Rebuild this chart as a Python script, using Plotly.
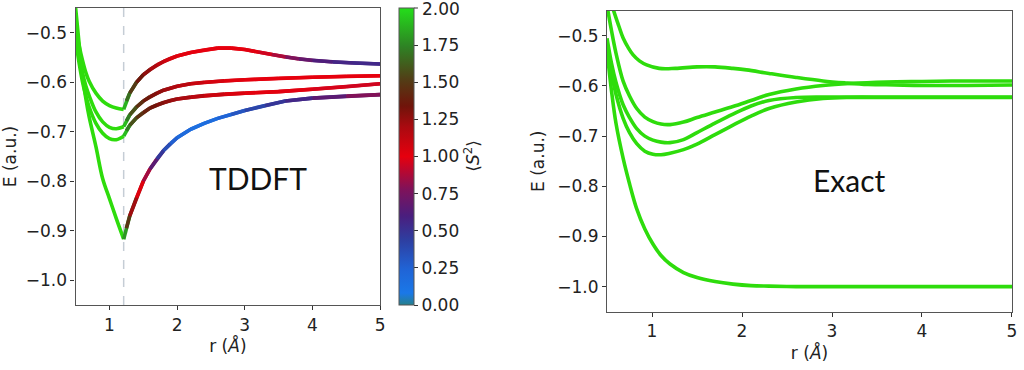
import plotly.graph_objects as go
from plotly.colors import sample_colorscale

# ---------------- data: TDDFT (left) ----------------
r_pre = [0.5, 0.55, 0.6, 0.65, 0.7, 0.8, 0.9, 1.0, 1.1, 1.21]
tddft_pre_1 = [-0.49, -0.525, -0.555, -0.58, -0.598, -0.622, -0.638, -0.647, -0.652, -0.655]
tddft_pre_2 = [-0.505, -0.545, -0.58, -0.607, -0.627, -0.66, -0.68, -0.691, -0.694, -0.690]
tddft_pre_3 = [-0.515, -0.56, -0.598, -0.627, -0.65, -0.683, -0.703, -0.714, -0.716, -0.709]
tddft_pre_4 = [-0.45, -0.52, -0.585, -0.632, -0.67, -0.73, -0.795, -0.835, -0.875, -0.917]

r_post_1 = [1.21, 1.25, 1.3, 1.4, 1.5, 1.6, 1.7, 1.8, 1.9, 2.0, 2.2, 2.4, 2.6, 2.8, 3.0, 3.2, 3.4, 3.6, 3.8, 4.0, 4.3, 4.6, 5.0]
tddft_post_1 = [-0.655, -0.638, -0.622, -0.600, -0.585, -0.574, -0.565, -0.558, -0.552, -0.547, -0.540, -0.535, -0.531,
                -0.531, -0.534, -0.539, -0.544, -0.549, -0.553, -0.556, -0.559, -0.561, -0.563]
s2_post_1 = [2.0, 1.75, 1.6, 1.4, 1.3, 1.22, 1.15, 1.1, 1.05, 1.02, 1.0, 1.0, 1.0,
             1.0, 1.0, 0.98, 0.92, 0.82, 0.72, 0.65, 0.58, 0.55, 0.55]

r_post_2 = [1.21, 1.25, 1.3, 1.4, 1.5, 1.6, 1.7, 1.8, 1.9, 2.0, 2.2, 2.4, 2.7, 3.0, 3.5, 4.0, 4.5, 5.0]
tddft_post_2 = [-0.690, -0.678, -0.666, -0.650, -0.638, -0.629, -0.622, -0.616, -0.612, -0.608, -0.603, -0.600,
                -0.597, -0.595, -0.592, -0.590, -0.588, -0.587]
s2_post_2 = [2.0, 1.8, 1.65, 1.5, 1.4, 1.32, 1.28, 1.24, 1.2, 1.17, 1.12, 1.08, 1.03, 1.0, 1.0, 1.0, 1.0, 1.0]

r_post_3 = [1.21, 1.25, 1.3, 1.4, 1.5, 1.6, 1.7, 1.8, 1.9, 2.0, 2.2, 2.4, 2.7, 3.0, 3.5, 4.0, 4.5, 5.0]
tddft_post_3 = [-0.709, -0.698, -0.687, -0.672, -0.661, -0.652, -0.646, -0.641, -0.637, -0.634, -0.630, -0.627,
                -0.624, -0.622, -0.619, -0.614, -0.609, -0.603]
s2_post_3 = [2.0, 1.8, 1.65, 1.5, 1.42, 1.36, 1.32, 1.28, 1.25, 1.22, 1.18, 1.12, 1.06, 1.02, 1.0, 0.98, 0.95, 0.95]

r_post_4 = [1.21, 1.25, 1.3, 1.4, 1.5, 1.6, 1.7, 1.8, 1.9, 2.0, 2.2, 2.4, 2.6, 2.8, 3.0, 3.3, 3.6, 4.0, 4.5, 5.0]
tddft_post_4 = [-0.917, -0.895, -0.870, -0.833, -0.800, -0.775, -0.755, -0.738, -0.724, -0.712, -0.695, -0.683,
                -0.673, -0.665, -0.657, -0.647, -0.638, -0.632, -0.628, -0.625]
s2_post_4 = [2.0, 1.6, 1.35, 1.1, 0.95, 0.75, 0.55, 0.4, 0.3, 0.22, 0.15, 0.15, 0.2, 0.28, 0.36, 0.45, 0.52,
             0.6, 0.72, 0.85]

r_kink = 1.21

# colorbar ticks
cbar_vals = [0, 0.25, 0.5, 0.75, 1.0, 1.25, 1.5, 1.75, 2.0]
cbar_text = ["0.00", "0.25", "0.50", "0.75", "1.00", "1.25", "1.50", "1.75", "2.00"]

# ---------------- data: Exact (right) ----------------
r_ex_top = [0.5, 0.57, 0.63, 0.68, 0.74, 0.79, 0.86, 0.94, 1.08, 1.26, 1.5, 1.7, 1.9, 2.05, 2.3, 2.6, 2.9, 3.15, 3.4, 3.7, 4.0, 4.5, 5.0]
ex_top = [-0.405, -0.448, -0.48, -0.505, -0.525, -0.538, -0.55, -0.558, -0.565, -0.565, -0.562, -0.562, -0.565,
          -0.568, -0.575, -0.583, -0.590, -0.594, -0.597, -0.598, -0.599, -0.599, -0.598]

r_ex = [0.5, 0.55, 0.6, 0.68, 0.75, 0.83, 0.92, 1.01, 1.1, 1.2, 1.35, 1.5, 1.7, 1.9, 2.1, 2.3, 2.6, 2.9, 3.2, 3.6, 4.0, 4.5, 5.0]
ex_b = [-0.44, -0.49, -0.535, -0.591, -0.62, -0.645, -0.662, -0.671, -0.676, -0.677, -0.672, -0.663, -0.652,
        -0.641, -0.629, -0.617, -0.606, -0.599, -0.595, -0.592, -0.591, -0.590, -0.590]
ex_c = [-0.505, -0.555, -0.593, -0.638, -0.663, -0.685, -0.700, -0.708, -0.712, -0.713, -0.707, -0.693, -0.674,
        -0.656, -0.640, -0.629, -0.623, -0.622, -0.622, -0.622, -0.622, -0.622, -0.622]
ex_d = [-0.515, -0.575, -0.617, -0.665, -0.693, -0.715, -0.730, -0.736, -0.737, -0.734, -0.727, -0.716, -0.697,
        -0.678, -0.660, -0.645, -0.632, -0.625, -0.623, -0.623, -0.623, -0.623, -0.623]
ex_g = [-0.53, -0.61, -0.675, -0.745, -0.795, -0.845, -0.885, -0.915, -0.938, -0.955, -0.972, -0.982, -0.990,
        -0.995, -0.998, -0.999, -1.0, -1.0, -1.0, -1.0, -1.0, -1.0, -1.0]

# ---------------- styling ----------------
colorscale = [
    [0.0, "rgb(38,128,140)"],
    [0.04, "rgb(26,120,232)"],
    [0.12, "rgb(32,100,214)"],
    [0.22, "rgb(46,62,160)"],
    [0.30, "rgb(74,30,126)"],
    [0.39, "rgb(128,18,90)"],
    [0.50, "rgb(230,0,14)"],
    [0.60, "rgb(170,10,16)"],
    [0.67, "rgb(112,20,10)"],
    [0.76, "rgb(82,62,22)"],
    [0.87, "rgb(46,130,36)"],
    [1.0, "rgb(36,222,26)"],
]
GREEN = "rgb(46,220,12)"
LW = 3.6
FONT = "DejaVu Sans"
TICKSIZE = 17
TITLESIZE = 17

W, H = 1024, 370
CB_LEFT, CB_W, CB_TOP, CB_BOT = 401, 15, 8, 305


def fx(px):
    return px / W


def fy(py):
    return (H - py) / H


fig = go.Figure()

# left green (pre-kink) parts
for ys in (tddft_pre_1, tddft_pre_2, tddft_pre_3, tddft_pre_4):
    fig.add_trace(go.Scatter(x=r_pre, y=ys, mode="lines", line=dict(color=GREEN, width=LW, shape="spline"),
                             xaxis="x", yaxis="y", showlegend=False, hoverinfo="skip"))

# colored post-kink parts: overlapping 3-point pieces so joins stay continuous
for rs, ys, ss in ((r_post_1, tddft_post_1, s2_post_1), (r_post_2, tddft_post_2, s2_post_2),
                   (r_post_3, tddft_post_3, s2_post_3), (r_post_4, tddft_post_4, s2_post_4)):
    n = len(rs)
    for i in range(n - 1):
        c = sample_colorscale(colorscale, [(ss[i] + ss[i + 1]) / 4.0])[0]
        j = min(i + 3, n)
        fig.add_trace(go.Scatter(x=rs[i:j], y=ys[i:j], mode="lines",
                                 line=dict(color=c, width=LW), xaxis="x", yaxis="y",
                                 showlegend=False, hoverinfo="skip"))

# colorbar carrier (the top tick label is drawn as an annotation, plotly hides it at the bar end)
fig.add_trace(go.Scatter(
    x=[None], y=[None], mode="markers", xaxis="x", yaxis="y", showlegend=False,
    marker=dict(color=[0], cmin=cbar_vals[0], cmax=cbar_vals[-1], colorscale=colorscale, showscale=True,
                colorbar=dict(
                    x=fx(CB_LEFT), xanchor="left", xpad=0, ypad=0,
                    y=fy(CB_BOT), yanchor="bottom", len=(CB_BOT - CB_TOP) / H, lenmode="fraction",
                    thickness=CB_W, thicknessmode="pixels",
                    outlinewidth=1, outlinecolor="#555",
                    tickmode="array", tickvals=cbar_vals[:-1], ticktext=cbar_text[:-1],
                    ticks="outside", ticklen=4, tickcolor="#333",
                    tickfont=dict(family=FONT, size=TICKSIZE, color="#222"),
                ))))

# right exact curves
for rs, ys in ((r_ex_top, ex_top), (r_ex, ex_b), (r_ex, ex_c), (r_ex, ex_d), (r_ex, ex_g)):
    fig.add_trace(go.Scatter(x=rs, y=ys, mode="lines", line=dict(color=GREEN, width=LW, shape="spline"),
                             xaxis="x2", yaxis="y2", showlegend=False, hoverinfo="skip"))

ytickvals = [-0.5, -0.6, -0.7, -0.8, -0.9, -1.0]
yticktext = ["−0.5", "−0.6", "−0.7", "−0.8", "−0.9", "−1.0"]
xtickvals = [1, 2, 3, 4, 5]
xticktext = ["1", "2", "3", "4", "5"]

axis_common = dict(showgrid=False, zeroline=False, showline=True, mirror=True, linecolor="#555",
                   linewidth=1.3, ticks="outside", ticklen=4, tickcolor="#333",
                   tickfont=dict(family=FONT, size=TICKSIZE, color="#222"))
xtitle = dict(text="r (<i>Å</i>)", font=dict(family=FONT, size=TITLESIZE, color="#222"), standoff=6)
ytitle = dict(text="E (a.u.)", font=dict(family=FONT, size=TITLESIZE, color="#222"), standoff=8)

fig.update_layout(
    width=W, height=H,
    margin=dict(l=0, r=0, t=0, b=0),
    paper_bgcolor="white", plot_bgcolor="white",
    xaxis=dict(domain=[fx(76), fx(382)], range=[0.5, 5.0005], anchor="y",
               tickvals=xtickvals, ticktext=xticktext, title=xtitle, **axis_common),
    yaxis=dict(domain=[fy(305), fy(8)], range=[-1.05, -0.45], anchor="x",
               tickvals=ytickvals, ticktext=yticktext, title=ytitle, **axis_common),
    xaxis2=dict(domain=[fx(610), fx(1017)], range=[0.5, 5.0005], anchor="y2",
                tickvals=xtickvals, ticktext=xticktext, title=xtitle, **axis_common),
    yaxis2=dict(domain=[fy(311.7), fy(10.7)], range=[-1.05, -0.45], anchor="x2",
                tickvals=ytickvals, ticktext=yticktext, title=ytitle, **axis_common),
    shapes=[
        dict(type="line", xref="x", yref="paper", x0=r_kink, x1=r_kink, y0=fy(305), y1=fy(8),
             line=dict(color="#c5cdd5", width=1.5, dash="dash"), layer="below"),
        dict(type="line", xref="paper", yref="paper", x0=fx(CB_LEFT + CB_W), x1=fx(CB_LEFT + CB_W + 4),
             y0=fy(CB_TOP), y1=fy(CB_TOP), line=dict(color="#333", width=1)),
    ],
    annotations=[
        dict(text="TDDFT", x=3.2, y=-0.793, xref="x", yref="y", showarrow=False,
             font=dict(family="Lato", size=30, color="#111")),
        dict(text="Exact", x=3.19, y=-0.788, xref="x2", yref="y2", showarrow=False,
             font=dict(family="Lato", size=30, color="#111")),
        dict(text=cbar_text[-1], x=fx(CB_LEFT + CB_W + 6), y=fy(CB_TOP + 1), xref="paper", yref="paper",
             xanchor="left", yanchor="middle", showarrow=False,
             font=dict(family=FONT, size=TICKSIZE, color="#222")),
        dict(text="⟨<i>S</i><sup>2</sup>⟩", x=fx(474), y=fy(156), xref="paper", yref="paper",
             showarrow=False, textangle=-90, font=dict(family=FONT, size=TITLESIZE, color="#222")),
    ],
)

fig.write_html("out.html", config={"displayModeBar": False},
               post_script="document.body.style.margin='0';document.body.style.overflow='hidden';")
